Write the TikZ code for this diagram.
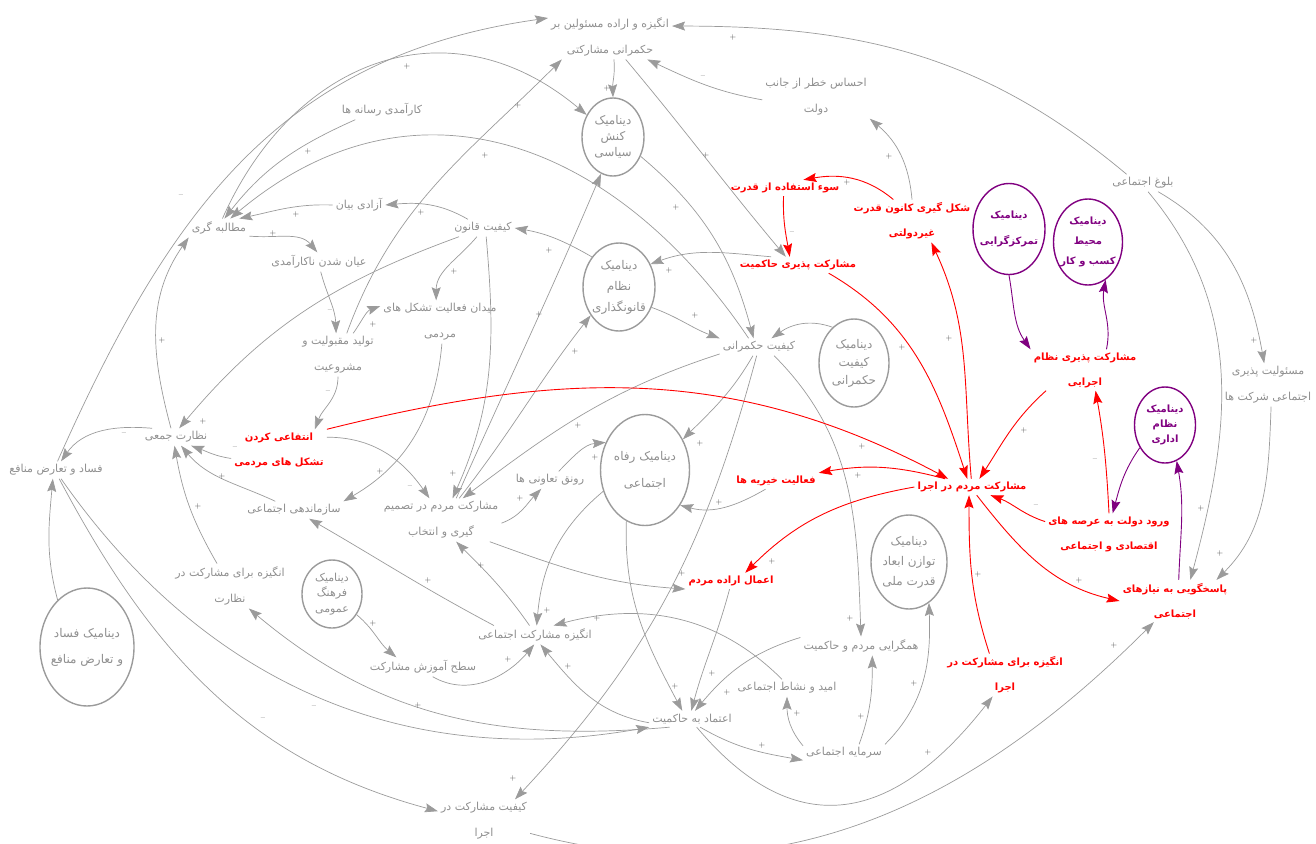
\documentclass[tikz,border=0pt]{standalone}
\usepackage{fontspec}
\usetikzlibrary{arrows.meta,shapes.geometric}
\newfontfamily\farsi[Script=Arabic]{DejaVu Sans}
\TeXXeTstate=1
\newcommand{\rtl}[1]{\beginR#1\endR}
\definecolor{gr}{HTML}{9B9B9B}
\definecolor{gt}{HTML}{8F8F8F}
\definecolor{pu}{HTML}{800080}
\definecolor{sg}{HTML}{4A4A4A}
\tikzset{
  gtext/.style={text=gt, font=\farsi\fontsize{11}{26}\selectfont, align=center, inner sep=3pt},
  rtext/.style={gtext, text=red, font=\farsi\bfseries\fontsize{10}{25}\selectfont},
  gdyn/.style={ellipse, draw=gr, line width=1.4pt, text=gt, align=center, inner sep=-4pt, font=\farsi\fontsize{12}{20}\selectfont},
  pdyn/.style={gdyn, draw=pu, text=pu, font=\farsi\bfseries\fontsize{10}{20}\selectfont},
  garr/.style={draw=gr, line width=0.7pt, -{Stealth[length=13pt,width=9pt,inset=2pt]}},
  rarr/.style={garr, draw=red, line width=0.9pt},
  parr/.style={garr, draw=pu, line width=0.9pt},
  sgn/.style={text=sg, font=\fontsize{8}{8}\selectfont, inner sep=0pt}
}
\begin{document}
\begin{tikzpicture}[x=1pt,y=1pt]
\useasboundingbox (0,0) rectangle (1316,-843);

% variables
\node[gtext] (motive) at (610,-37) {\rtl{انگیزه و اراده مسئولین بر}\\\rtl{حکمرانی مشارکتی}};
\node[gtext] (media) at (382,-110) {\rtl{کارآمدی رسانه ها}};
\node[gtext] (demand) at (219,-228) {\rtl{مطالبه گری}};
\node[gtext] (freedom) at (359,-205) {\rtl{آزادی بیان}};
\node[gtext] (lawq) at (483,-228) {\rtl{کیفیت قانون}};
\node[gtext] (ineff) at (319,-262) {\rtl{عیان شدن ناکارآمدی}};
\node[gtext] (legit) at (338,-355) {\rtl{تولید مقبولیت و}\\\rtl{مشروعیت}};
\node[gtext] (field) at (440,-322) {\rtl{میدان فعالیت تشکل های}\\\rtl{مردمی}};
\node[gtext] (collsup) at (176,-437) {\rtl{نظارت جمعی}};
\node[gtext] (corrupt) at (56,-470) {\rtl{فساد و تعارض منافع}};
\node[gtext] (socorg) at (294,-510) {\rtl{سازماندهی اجتماعی}};
\node[gtext] (decide) at (441,-520) {\rtl{مشارکت مردم در تصمیم}\\\rtl{گیری و انتخاب}};
\node[gtext] (coop) at (550,-480) {\rtl{رونق تعاونی ها}};
\node[gtext] (govq) at (759,-347) {\rtl{کیفیت حکمرانی}};
\node[gtext] (threat) at (816,-97) {\rtl{احساس خطر از جانب}\\\rtl{دولت}};
\node[gtext] (matur) at (1143,-183) {\rtl{بلوغ اجتماعی}};
\node[gtext] (csr) at (1268,-385) {\rtl{مسئولیت پذیری}\\\rtl{اجتماعی شرکت ها}};
\node[gtext] (supmot) at (230,-586) {\rtl{انگیزه برای مشارکت در}\\\rtl{نظارت}};
\node[gtext] (edu) at (423,-667) {\rtl{سطح آموزش مشارکت}};
\node[gtext] (socmot) at (535,-635) {\rtl{انگیزه مشارکت اجتماعی}};
\node[gtext] (trust) at (692,-719) {\rtl{اعتماد به حاکمیت}};
\node[gtext] (hope) at (787,-688) {\rtl{امید و نشاط اجتماعی}};
\node[gtext] (converge) at (861,-646) {\rtl{همگرایی مردم و حاکمیت}};
\node[gtext] (socap) at (844,-753) {\rtl{سرمایه اجتماعی}};
\node[gtext] (qualexec) at (484,-821) {\rtl{کیفیت مشارکت در}\\\rtl{اجرا}};

% dynamics
\node[gdyn, minimum width=62, minimum height=78, font=\farsi\fontsize{12}{16}\selectfont] (kensh) at (613,-137) {\rtl{دینامیک}\\\rtl{کنش}\\\rtl{سیاسی}};
\node[gdyn, minimum width=72, minimum height=88, font=\farsi\fontsize{12}{21}\selectfont] (qanun) at (619,-287) {\rtl{دینامیک}\\\rtl{نظام}\\\rtl{قانونگذاری}};
\node[gdyn, minimum width=70, minimum height=88, font=\farsi\fontsize{12}{18}\selectfont] (hokm) at (854,-363) {\rtl{دینامیک}\\\rtl{کیفیت}\\\rtl{حکمرانی}};
\node[gdyn, minimum width=89, minimum height=111, font=\farsi\fontsize{12}{27}\selectfont] (refah) at (645,-470) {\rtl{دینامیک رفاه}\\\rtl{اجتماعی}};
\node[gdyn, minimum width=76, minimum height=94] (tavazon) at (909,-562) {\rtl{دینامیک}\\\rtl{توازن ابعاد}\\\rtl{قدرت ملی}};
\node[gdyn, minimum width=60, minimum height=68, font=\farsi\fontsize{11}{15.5}\selectfont] (farhang) at (332,-594) {\rtl{دینامیک}\\\rtl{فرهنگ}\\\rtl{عمومی}};
\node[gdyn, minimum width=94, minimum height=118, font=\farsi\fontsize{12}{26}\selectfont] (fesad) at (87,-647) {\rtl{دینامیک فساد}\\\rtl{و تعارض منافع}};
\node[pdyn, minimum width=72, minimum height=91, font=\farsi\bfseries\fontsize{10}{26}\selectfont] (tamarkoz) at (1009,-229) {\rtl{دینامیک}\\\rtl{تمرکزگرایی}};
\node[pdyn, minimum width=69, minimum height=86] (kasb) at (1088,-242) {\rtl{دینامیک}\\\rtl{محیط}\\\rtl{کسب و کار}};
\node[pdyn, minimum width=61, minimum height=76, font=\farsi\bfseries\fontsize{10}{15}\selectfont] (edari) at (1165,-425) {\rtl{دینامیک}\\\rtl{نظام}\\\rtl{اداری}};

% key variables
\node[rtext] (abuse) at (785,-188) {\rtl{سوء استفاده از قدرت}};
\node[rtext] (power) at (912,-221) {\rtl{شکل گیری کانون قدرت}\\\rtl{غیردولتی}};
\node[rtext] (govpart) at (798,-265) {\rtl{مشارکت پذیری حاکمیت}};
\node[rtext] (execpart) at (1085,-370) {\rtl{مشارکت پذیری نظام}\\\rtl{اجرایی}};
\node[rtext] (execpeople) at (972,-487) {\rtl{مشارکت مردم در اجرا}};
\node[rtext] (charity) at (776,-481) {\rtl{فعالیت خیریه ها}};
\node[rtext] (stateentry) at (1109,-534) {\rtl{ورود دولت به عرصه های}\\\rtl{اقتصادی و اجتماعی}};
\node[rtext] (will) at (731,-581) {\rtl{اعمال اراده مردم}};
\node[rtext] (respond) at (1175,-601) {\rtl{پاسخگویی به نیازهای}\\\rtl{اجتماعی}};
\node[rtext] (execmot) at (1005,-675) {\rtl{انگیزه برای مشارکت در}\\\rtl{اجرا}};
\node[rtext] (profit) at (279,-450) {\rtl{انتفاعی کردن}\\\rtl{تشکل های مردمی}};

% gray links
\draw[garr] (corrupt.80) to[out=66,in=188,looseness=1.05] (motive.163);
\draw[garr] (demand.70) to[out=66,in=140,looseness=1.2] (kensh.140);
\draw[garr] (media.200) to[out=204,in=52] (demand.60);
\draw[garr] (freedom.west) to[out=178,in=12] (demand.25);
\draw[garr] (govq.140) to[out=124,in=40,looseness=1.15] (demand.40);
\draw[garr] (demand.-15) to[out=-5,in=130] (ineff.100);
\draw[garr] (lawq.150) to[out=150,in=5] (freedom.east);
\draw[garr] (lawq.200) to[out=200,in=50] (collsup.70);
\draw[garr] (lawq.235) to[out=230,in=90] (field.100);
\draw[garr] (lawq.290) to[out=275,in=66] (decide.62);
\draw[garr] (ineff.-80) to[out=285,in=92] (legit.95);
\draw[garr] (legit.55) to[out=55,in=200] (field.165);
\draw[garr] (legit.68) to[out=70,in=225] (motive.205);
\draw[garr] (legit.-90) to[out=270,in=70] (profit.30);
\draw[garr] (profit.190) to[out=172,in=-20] (collsup.-30);
\draw[garr] (socorg.155) to[out=155,in=-50] (collsup.-60);
\draw[garr] (supmot.120) to[out=120,in=-80] (collsup.-100);
\draw[garr] (collsup.160) to[out=175,in=55] (corrupt.60);
\draw[garr] (collsup.120) to[out=105,in=235] (demand.south west);
\draw[garr] (fesad.122) to[out=105,in=-95] (corrupt.-110);
\draw[garr] (corrupt.-70) to[out=-62,in=165] (qualexec.168);
\draw[garr] (corrupt.-60) to[out=-55,in=190] (trust.south west);
\draw[garr] (trust.200) to[out=185,in=-40] (supmot.-50);
\draw[garr] (farhang.-40) to[out=-40,in=140] (edu.160);
\draw[garr] (edu.-45) to[out=-30,in=230] (socmot.-95);
\draw[garr] (socmot.167) to[out=152,in=-30] (socorg.-30);
\draw[garr] (socmot.120) to[out=125,in=-45] (decide.-55);
\draw[garr] (refah.207) to[out=220,in=85] (socmot.80);
\draw[garr] (trust.185) to[out=170,in=-50] (socmot.-60);
\draw[garr] (hope.120) to[out=135,in=15] (socmot.27);
\draw[garr] (refah.250) to[out=268,in=118] (trust.140);
\draw[garr] (will.-100) to[out=255,in=75] (trust.95);
\draw[garr] (converge.172) to[out=197,in=50] (trust.70);
\draw[garr] (socap.170) to[out=130,in=270] (hope.south);
\draw[garr] (socap.30) to[out=70,in=270] (converge.-40);
\draw[garr] (socap.north east) to[out=45,in=272] (tavazon.-64);
\draw[garr] (trust.-45) to[out=-30,in=170] (socap.190);
\draw[garr] (trust.-60) to[out=-50,in=232,looseness=1.35] (execmot.-120);
\draw[garr] (qualexec.-15) to[out=-15,in=225] (respond.-135);
\draw[garr] (govq.-105) to[out=255,in=47] (qualexec.35);
\draw[garr] (govq.-30) to[out=-45,in=92] (converge.north);
\draw[garr] (govq.-125) to[out=240,in=45] (refah.39);
\draw[garr] (govq.190) to[out=198,in=37] (decide.45);
\draw[garr] (qanun.-32) to[out=-20,in=160] (govq.north west);
\draw[garr] (qanun.132) to[out=150,in=-10] (lawq.east);
\draw[garr] (govpart.163) to[out=175,in=20] (qanun.36);
\draw[garr] (hokm.121) to[out=160,in=35] (govq.35);
\draw[garr] (kensh.-35) to[out=-40,in=105] (govq.122);
\draw[garr] (motive.-80) to[out=-85,in=92] (kensh.north);
\draw[garr] (motive.-55) to[out=-50,in=130] (govpart.146);
\draw[garr] (decide.55) to[out=66,in=247] (kensh.-108);
\draw[garr] (decide.50) to[out=52,in=232] (qanun.-135);
\draw[garr] (decide.-3) to[out=20,in=226] (coop.-135);
\draw[garr] (coop.45) to[out=45,in=185] (refah.145);
\draw[garr] (decide.-24) to[out=-20,in=176] (will.190);
\draw[garr] (profit.15) to[out=0,in=125] (decide.118);
\draw[garr] (field.-85) to[out=265,in=30] (socorg.10);
\draw[garr] (threat.183) to[out=170,in=-25] (motive.-31);
\draw[garr] (matur.152) to[out=140,in=0] (motive.10);
\draw[garr] (matur.-30) to[out=-30,in=100] (csr.100);
\draw[garr] (matur.-60) to[out=-50,in=75] (respond.54);
\draw[garr] (csr.-82) to[out=268,in=45] (respond.27);
\draw[garr] (power.90) to[out=95,in=-40] (threat.south east);
\draw[garr] (charity.-142) to[out=210,in=-15] (refah.-45);

% red links
\draw[rarr] (abuse.-100) to[out=268,in=100] (govpart.135);
\draw[rarr] (power.131) to[out=140,in=10] (abuse.24);
\draw[rarr] (execpeople.95) to[out=95,in=-65] (power.-48);
\draw[rarr] (govpart.-15) to[out=-30,in=108] (execpeople.120);
\draw[rarr] (profit.north east) to[out=14,in=152] (execpeople.161);
\draw[rarr] (execpeople.163) to[out=165,in=10] (charity.north east);
\draw[rarr] (execpeople.west) to[out=190,in=45] (will.30);
\draw[rarr] (execpeople.-60) to[out=-52,in=167] (respond.west);
\draw[rarr] (execmot.126) to[out=108,in=-90] (execpeople.-110);
\draw[rarr] (execpart.-152) to[out=222,in=57] (execpeople.48);
\draw[rarr] (stateentry.north) to[out=93,in=-80] (execpart.-63);
\draw[rarr] (stateentry.169) to[out=162,in=-20] (execpeople.-24);

% purple links
\draw[parr] (tamarkoz.south) to[out=-80,in=125] (execpart.north west);
\draw[parr] (execpart.44) to[out=78,in=-100] (kasb.-65);
\draw[parr] (edari.-138) to[out=235,in=75] (stateentry.80);
\draw[parr] (respond.80) to[out=88,in=-80] (edari.-72);

% polarities
\foreach \x/\y [count=\i] in {407/67,308/151,296/214,273/233,421/212,733/38,607/88,518/105,485/155,706/155,676/207,847/182,889/156,549/250,669/270,454/271,373/324,162/340,203/421,222/476,380/471,198/506,539/314,695/315,575/351,453/473,578/425,700/443,595/457,520/498,862/446,858/475,719/502,481/565,682/573,772/561,949/338,902/347,1024/430,1201/508,1254/340,1220/553,978/574,428/580,373/623,418/705,547/610,597/618,508/659,568/666,675/686,712/673,727/692,797/713,861/716,850/618,762/745,513/778,1079/580,1114/645,914/683,928/752}
  \node[sgn] (pl\i) at (\x,-\y) {+};
\foreach \x/\y [count=\i] in {181/196,703/77,792/233,330/311,328/392,124/434,235/448,410/487,1095/460,1036/506,314/707,263/719}
  \node[sgn] (mn\i) at (\x,-\y) {\textendash};

\end{tikzpicture}
\end{document}
